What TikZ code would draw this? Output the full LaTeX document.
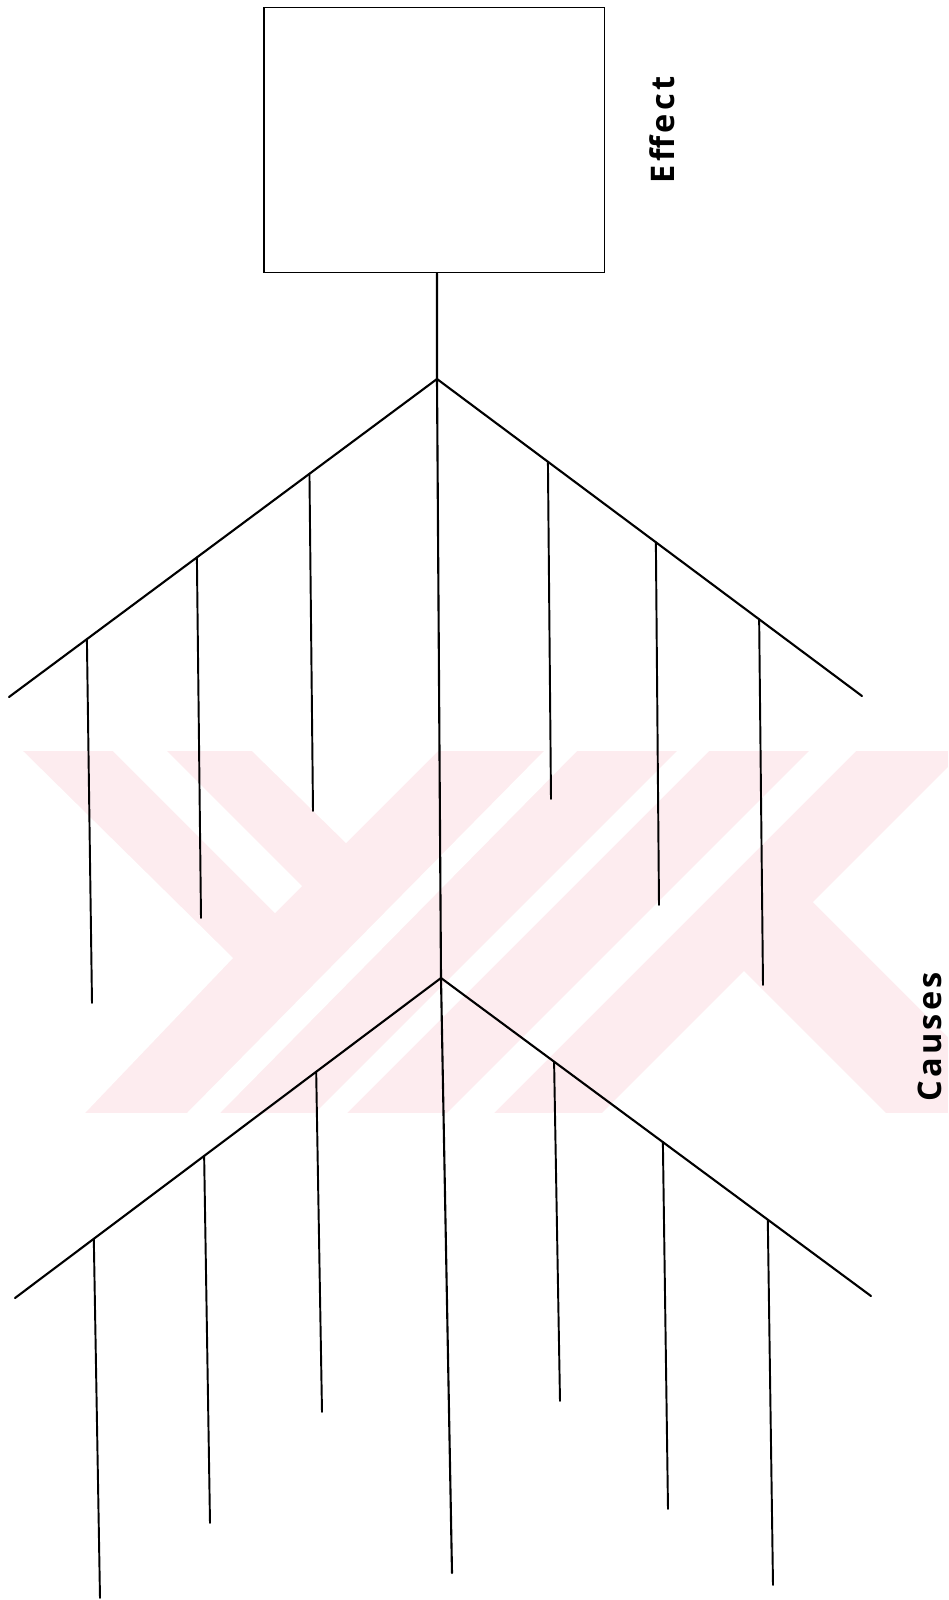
\documentclass[tikz,border=0pt]{standalone}
\usepackage{fontspec}
\newfontfamily\labfont[LetterSpace=10]{Open Sans}
\usetikzlibrary{calc}
\definecolor{wmpink}{HTML}{FDECEF}
\tikzset{
  effbox/.style    = {draw, line width=1.1pt, rectangle, inner sep=0pt,
                      minimum width=6.82cm, minimum height=5.3cm},
  bone/.style      = {line width=1.2pt, line cap=round},
  rib/.style       = {line width=1.1pt, line cap=round},
  sidelabel/.style = {font=\labfont\bfseries\fontsize{18.5}{20}\selectfont,
                      rotate=90, inner sep=0pt},
  wmgap/.style     = {fill=white},
}
\begin{document}
\begin{tikzpicture}[x=0.02cm, y=-0.02cm]
\useasboundingbox (0,0) rectangle (948,1600);
% ---- faint watermark behind the bones ----
\fill[wmpink] (0,751) rectangle (948,1113);
\fill[wmgap] (0,751) -- (23,751) -- (233,958) -- (85,1113) -- (0,1113) -- cycle;
\fill[wmgap] (113,751) -- (167,751) -- (302,886) -- (275,913) -- cycle;
\fill[wmgap] (252,751) -- (438,751) -- (346,843) -- cycle;
\fill[wmgap] (187,1113) -- (220,1113) -- (577,751) -- (544,751) -- cycle;
\fill[wmgap] (315,1113) -- (347,1113) -- (709,751) -- (677,751) -- cycle;
\fill[wmgap] (447,1113) -- (494,1113) -- (856,751) -- (809,751) -- cycle;
\fill[wmgap] (813,902) -- (948,767) -- (948,1037) -- cycle;
\fill[wmgap] (744,971) -- (602,1113) -- (886,1113) -- cycle;
% ---- effect box and head of the spine ----
\node[effbox] (effect) at (434,140) {};
\node[sidelabel] (efftext) at (662,130) {Effect};
\coordinate (apexA) at (437,379);
\coordinate (apexB) at (441,978);
\coordinate (tail)  at (452,1573);
\draw[bone] (effect.south -| apexA) -- (apexA) -- (apexB) -- (tail);
% ---- upper pair of bones ----
\coordinate (endAL) at (9,697);
\coordinate (endAR) at (862,696);
\draw[bone] (endAL) -- (apexA) -- (endAR);
\coordinate (ribA1) at ($(apexA)!0.818!(endAL)$);
\coordinate (ribA2) at ($(apexA)!0.561!(endAL)$);
\coordinate (ribA3) at ($(apexA)!0.298!(endAL)$);
\coordinate (ribA4) at ($(apexA)!0.261!(endAR)$);
\coordinate (ribA5) at ($(apexA)!0.515!(endAR)$);
\coordinate (ribA6) at ($(apexA)!0.758!(endAR)$);
\coordinate (footA1) at (92,1003);
\coordinate (footA2) at (201,918);
\coordinate (footA3) at (313,811);
\coordinate (footA4) at (551,799);
\coordinate (footA5) at (659,905);
\coordinate (footA6) at (763,985);
\draw[rib] (ribA1) -- (footA1);
\draw[rib] (ribA2) -- (footA2);
\draw[rib] (ribA3) -- (footA3);
\draw[rib] (ribA4) -- (footA4);
\draw[rib] (ribA5) -- (footA5);
\draw[rib] (ribA6) -- (footA6);
% ---- lower pair of bones ----
\coordinate (endBL) at (15,1298);
\coordinate (endBR) at (871,1296);
\draw[bone] (endBL) -- (apexB) -- (endBR);
\coordinate (ribB1) at ($(apexB)!0.815!(endBL)$);
\coordinate (ribB2) at ($(apexB)!0.556!(endBL)$);
\coordinate (ribB3) at ($(apexB)!0.293!(endBL)$);
\coordinate (ribB4) at ($(apexB)!0.263!(endBR)$);
\coordinate (ribB5) at ($(apexB)!0.516!(endBR)$);
\coordinate (ribB6) at ($(apexB)!0.760!(endBR)$);
\coordinate (footB1) at (100,1598);
\coordinate (footB2) at (210,1523);
\coordinate (footB3) at (322,1412);
\coordinate (footB4) at (560,1401);
\coordinate (footB5) at (668,1509);
\coordinate (footB6) at (773,1585);
\draw[rib] (ribB1) -- (footB1);
\draw[rib] (ribB2) -- (footB2);
\draw[rib] (ribB3) -- (footB3);
\draw[rib] (ribB4) -- (footB4);
\draw[rib] (ribB5) -- (footB5);
\draw[rib] (ribB6) -- (footB6);
% ---- side label ----
\node[sidelabel] (causetext) at (930,1037) {Causes};
\end{tikzpicture}
\end{document}
